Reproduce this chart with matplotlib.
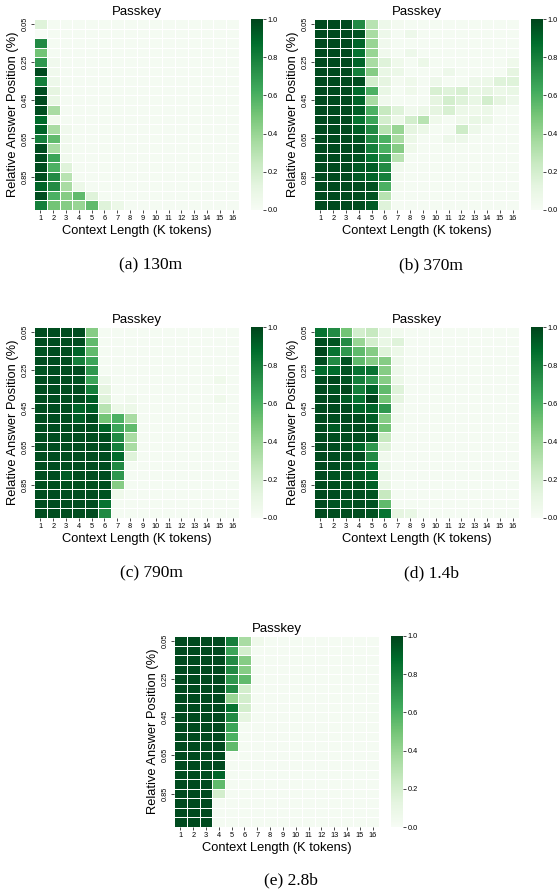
import numpy as np
import matplotlib
matplotlib.use("Agg")
import matplotlib.pyplot as plt
import seaborn as sns

plt.rcParams['font.family'] = ['Liberation Sans', 'DejaVu Sans']

context_k = [str(i) for i in range(1, 17)]
positions = [f"{0.05 * (i + 1):.2f}" for i in range(20)]
captions = ["(a) 130m", "(b) 370m", "(c) 790m", "(d) 1.4b", "(e) 2.8b"]

b = 0.02  # pale background accuracy

acc_130m = [
    [0.15, b, b, b, b, b, b, b, b, b, b, b, b, b, b, b],
    [0.00, b, b, b, b, b, b, b, b, b, b, b, b, b, b, b],
    [0.75, b, b, b, b, b, b, b, b, b, b, b, b, b, b, b],
    [0.50, b, b, b, b, b, b, b, b, b, b, b, b, b, b, b],
    [0.70, 0.05, b, b, b, b, b, b, b, b, b, b, b, b, b, b],
    [0.98, 0.05, b, b, b, b, b, b, b, b, b, b, b, b, b, b],
    [0.80, 0.07, b, b, b, b, b, b, b, b, b, b, b, b, b, b],
    [0.97, 0.12, b, b, b, b, b, b, b, b, b, b, b, b, b, b],
    [0.98, 0.10, b, b, b, b, b, b, b, b, b, b, b, b, b, b],
    [0.97, 0.35, b, b, b, b, b, b, b, b, b, b, b, b, b, b],
    [0.88, 0.04, b, b, b, b, b, b, b, b, b, b, b, b, b, b],
    [0.90, 0.35, 0.05, b, b, b, b, b, b, b, b, b, b, b, b, b],
    [0.80, 0.55, 0.05, b, b, b, b, b, b, b, b, b, b, b, b, b],
    [0.97, 0.35, 0.05, b, b, b, b, b, b, b, b, b, b, b, b, b],
    [0.97, 0.65, 0.05, b, b, b, b, b, b, b, b, b, b, b, b, b],
    [0.97, 0.60, 0.15, b, b, b, b, b, b, b, b, b, b, b, b, b],
    [0.97, 0.75, 0.30, b, b, b, b, b, b, b, b, b, b, b, b, b],
    [0.90, 0.75, 0.35, 0.08, b, b, b, b, b, b, b, b, b, b, b, b],
    [0.97, 0.60, 0.45, 0.55, 0.15, b, b, b, b, b, b, b, b, b, b, b],
    [0.80, 0.50, 0.45, 0.40, 0.55, 0.15, 0.08, b, b, b, b, b, b, b, b, b],
]

acc_370m = [
    [0.98, 0.98, 0.98, 0.75, 0.30, 0.07, 0.03, b, b, b, b, b, b, b, b, b],
    [0.98, 0.98, 0.98, 0.95, 0.35, 0.07, b, 0.07, b, b, b, b, b, b, b, b],
    [0.98, 0.98, 0.98, 0.90, 0.40, 0.05, b, b, b, b, b, b, b, b, b, b],
    [0.98, 0.98, 0.98, 0.85, 0.40, 0.05, b, 0.07, b, b, b, b, b, b, b, b],
    [0.98, 0.98, 0.98, 0.90, 0.35, 0.15, 0.06, b, 0.08, b, b, b, b, b, b, 0.06],
    [0.98, 0.98, 0.98, 0.80, 0.45, 0.10, 0.08, b, b, b, 0.07, b, b, b, b, 0.12],
    [0.98, 0.98, 0.98, 0.97, 0.20, 0.12, 0.03, 0.06, b, 0.07, b, b, 0.07, 0.08, 0.15, 0.15],
    [0.98, 0.98, 0.98, 0.88, 0.60, 0.10, b, 0.06, b, 0.18, 0.15, 0.18, 0.10, 0.12, 0.08, 0.10],
    [0.98, 0.98, 0.98, 0.90, 0.35, 0.05, b, b, b, 0.12, 0.20, 0.15, 0.10, 0.20, 0.12, 0.07],
    [0.98, 0.98, 0.98, 0.92, 0.60, 0.25, 0.15, 0.05, 0.08, 0.12, 0.18, 0.08, 0.06, 0.08, b, b],
    [0.98, 0.98, 0.98, 0.85, 0.65, 0.20, 0.08, 0.20, 0.30, 0.06, b, 0.06, 0.10, 0.08, b, b],
    [0.98, 0.98, 0.98, 0.92, 0.75, 0.30, 0.40, 0.12, 0.08, b, b, 0.22, 0.07, b, b, b],
    [0.98, 0.98, 0.98, 0.95, 0.75, 0.60, 0.35, 0.08, b, b, 0.07, 0.07, b, b, b, b],
    [0.98, 0.98, 0.98, 0.97, 0.80, 0.60, 0.45, 0.06, b, b, b, b, b, b, b, b],
    [0.98, 0.98, 0.98, 0.95, 0.85, 0.70, 0.30, b, b, b, b, b, b, b, b, b],
    [0.98, 0.98, 0.98, 0.93, 0.92, 0.75, 0.05, b, b, b, b, b, b, b, b, b],
    [0.98, 0.98, 0.98, 0.93, 0.90, 0.80, 0.03, b, b, b, b, b, b, b, b, b],
    [0.98, 0.98, 0.98, 0.97, 0.95, 0.60, 0.03, b, b, b, b, b, b, b, b, b],
    [0.98, 0.98, 0.98, 0.97, 0.95, 0.30, b, b, b, b, b, b, b, b, b, b],
    [0.98, 0.98, 0.98, 0.97, 0.93, 0.15, b, b, b, b, b, b, b, b, b, b],
]

acc_790m = [
    [0.97, 0.97, 0.97, 0.97, 0.45, b, b, b, b, b, b, b, b, b, b, b],
    [0.97, 0.97, 0.97, 0.97, 0.55, b, b, b, b, b, b, b, b, b, b, b],
    [0.95, 0.97, 0.97, 0.90, 0.55, b, b, b, b, b, b, b, b, b, b, b],
    [0.97, 0.97, 0.97, 0.80, 0.65, b, b, b, b, b, b, b, b, b, b, b],
    [0.95, 0.97, 0.97, 0.97, 0.70, b, b, b, b, b, b, b, b, b, b, b],
    [0.97, 0.97, 0.97, 0.95, 0.65, 0.07, b, b, b, b, b, b, b, b, 0.06, b],
    [0.97, 0.97, 0.97, 0.97, 0.80, 0.12, b, b, b, b, b, b, b, b, b, b],
    [0.97, 0.97, 0.97, 0.97, 0.92, 0.15, b, 0.05, b, b, b, b, b, b, 0.06, b],
    [0.97, 0.97, 0.97, 0.90, 0.92, 0.30, 0.08, 0.08, b, b, b, b, b, b, b, b],
    [0.97, 0.97, 0.97, 0.92, 0.97, 0.50, 0.60, 0.35, b, b, b, b, b, b, b, b],
    [0.97, 0.97, 0.97, 0.97, 0.97, 0.90, 0.65, 0.55, b, b, b, b, b, b, b, b],
    [0.97, 0.97, 0.97, 0.97, 0.97, 0.97, 0.75, 0.35, b, b, b, b, b, b, b, b],
    [0.97, 0.97, 0.97, 0.97, 0.97, 0.97, 0.80, 0.35, b, b, b, b, b, b, b, b],
    [0.97, 0.97, 0.97, 0.97, 0.97, 0.97, 0.88, 0.15, b, b, b, b, b, b, b, b],
    [0.97, 0.97, 0.97, 0.97, 0.97, 0.97, 0.75, b, b, b, b, b, b, b, b, b],
    [0.97, 0.97, 0.93, 0.97, 0.97, 0.97, 0.70, b, b, b, b, b, b, b, b, b],
    [0.97, 0.97, 0.97, 0.97, 0.97, 0.97, 0.45, b, b, b, b, b, b, b, b, b],
    [0.97, 0.97, 0.97, 0.97, 0.97, 0.95, 0.06, b, b, b, b, b, b, b, b, b],
    [0.97, 0.97, 0.97, 0.97, 0.97, 0.85, b, b, b, b, b, b, b, b, b, b],
    [0.97, 0.97, 0.97, 0.97, 0.97, 0.75, b, b, b, b, b, b, b, b, b, b],
]

acc_1_4b = [
    [0.85, 0.75, 0.50, 0.20, 0.25, 0.10, 0.04, b, b, b, b, b, b, b, b, b],
    [0.97, 0.95, 0.75, 0.40, 0.20, 0.10, 0.15, b, b, b, b, b, b, b, b, b],
    [0.99, 0.85, 0.70, 0.55, 0.45, 0.15, 0.08, b, b, b, b, b, b, b, b, b],
    [0.97, 0.75, 0.95, 0.55, 0.45, 0.45, 0.07, b, b, b, b, b, b, b, b, b],
    [0.88, 0.88, 0.95, 0.85, 0.85, 0.45, 0.07, b, b, b, b, b, b, b, b, b],
    [0.97, 0.99, 0.95, 0.80, 0.70, 0.45, 0.08, b, b, b, b, b, b, b, b, b],
    [0.98, 0.95, 0.99, 0.80, 0.90, 0.55, 0.15, b, b, b, b, b, b, b, b, b],
    [0.98, 0.98, 0.93, 0.85, 0.99, 0.50, 0.12, b, b, b, b, b, b, b, b, b],
    [0.98, 0.98, 0.98, 0.90, 0.90, 0.70, 0.05, b, b, b, b, b, b, b, b, b],
    [0.98, 0.97, 0.98, 0.97, 0.92, 0.45, 0.05, b, b, b, b, b, b, b, b, b],
    [0.98, 0.93, 0.97, 0.97, 0.95, 0.50, b, b, b, b, b, b, b, b, b, b],
    [0.98, 0.97, 0.97, 0.97, 0.95, 0.25, b, b, b, b, b, b, b, b, b, b],
    [0.98, 0.97, 0.97, 0.90, 0.70, 0.15, b, b, b, b, b, b, b, b, b, b],
    [0.98, 0.97, 0.97, 0.97, 0.75, 0.05, b, b, b, b, b, b, b, b, b, b],
    [0.98, 0.97, 0.97, 0.93, 0.85, 0.07, b, b, b, b, b, b, b, b, b, b],
    [0.98, 0.95, 0.97, 0.93, 0.90, 0.07, b, b, b, b, b, b, b, b, b, b],
    [0.98, 0.97, 0.97, 0.97, 0.92, 0.10, b, b, b, b, b, b, b, b, b, b],
    [0.98, 0.97, 0.97, 0.97, 0.95, 0.25, b, b, b, b, b, b, b, b, b, b],
    [0.98, 0.95, 0.95, 0.97, 0.95, 0.55, b, b, b, b, b, b, b, b, b, b],
    [0.98, 0.97, 0.97, 0.97, 0.95, 0.85, 0.12, 0.10, b, b, b, b, b, b, b, b],
]

acc_2_8b = [
    [0.98, 0.98, 0.98, 0.98, 0.80, 0.35, 0.06, b, b, b, b, b, b, b, b, b],
    [0.98, 0.98, 0.98, 0.98, 0.65, 0.20, b, b, b, b, b, b, b, b, b, b],
    [0.98, 0.98, 0.98, 0.98, 0.75, 0.45, b, b, b, b, b, b, b, b, b, b],
    [0.98, 0.98, 0.98, 0.98, 0.75, 0.45, b, b, b, b, b, b, b, b, b, b],
    [0.98, 0.98, 0.98, 0.98, 0.70, 0.55, b, b, b, b, b, b, b, b, b, b],
    [0.98, 0.98, 0.98, 0.98, 0.75, 0.20, b, b, b, b, b, b, b, b, b, b],
    [0.98, 0.98, 0.98, 0.98, 0.40, 0.20, b, b, b, b, b, b, b, b, b, b],
    [0.98, 0.98, 0.98, 0.98, 0.85, 0.20, b, b, b, b, b, b, b, b, b, b],
    [0.98, 0.98, 0.98, 0.98, 0.75, 0.12, b, b, b, b, b, b, b, b, b, b],
    [0.98, 0.98, 0.98, 0.98, 0.65, b, b, b, b, b, b, b, b, b, b, b],
    [0.98, 0.98, 0.98, 0.98, 0.60, b, b, b, b, b, b, b, b, b, b, b],
    [0.98, 0.98, 0.98, 0.98, 0.55, b, b, b, b, b, b, b, b, b, b, b],
    [0.98, 0.98, 0.98, 0.98, b, b, b, b, b, b, b, b, b, b, b, b],
    [0.98, 0.98, 0.98, 0.98, b, b, b, b, b, b, b, b, b, b, b, b],
    [0.98, 0.98, 0.98, 0.90, b, b, b, b, b, b, b, b, b, b, b, b],
    [0.98, 0.98, 0.98, 0.55, b, b, b, b, b, b, b, b, b, b, b, b],
    [0.98, 0.98, 0.98, 0.20, b, b, b, b, b, b, b, b, b, b, b, b],
    [0.98, 0.98, 0.98, b, b, b, b, b, b, b, b, b, b, b, b, b],
    [0.98, 0.98, 0.98, b, b, b, b, b, b, b, b, b, b, b, b, b],
    [0.98, 0.98, 0.98, b, b, b, b, b, b, b, b, b, b, b, b, b],
]

W, H = 557, 894
fig = plt.figure(figsize=(W / 100, H / 100), dpi=100)

def px_axes(x0, y0, x1, y1):
    return fig.add_axes([x0 / W, 1 - y1 / H, (x1 - x0) / W, (y1 - y0) / H])

panels = [
    (acc_130m, 34, 19, 0),
    (acc_370m, 314, 19, 1),
    (acc_790m, 34, 327, 2),
    (acc_1_4b, 314, 327, 3),
    (acc_2_8b, 174, 636, 4),
]
cap_y = [265, 265, 573, 573, 880]

for data, x0, y0, k in panels:
    ax = px_axes(x0, y0, x0 + 205, y0 + 191)
    cax = px_axes(x0 + 217, y0, x0 + 229, y0 + 191)
    sns.heatmap(np.array(data), ax=ax, cbar_ax=cax, cmap="Greens", vmin=0, vmax=1,
                linewidths=0.6, linecolor="white",
                xticklabels=context_k, yticklabels=positions)
    ax.set_yticks([i + 0.5 for i in range(0, 20, 4)])
    ax.set_yticklabels([positions[i] for i in range(0, 20, 4)], rotation=90, va="center")
    ax.set_title("Passkey", fontsize=9.5, pad=3)
    ax.set_xlabel("Context Length (K tokens)", fontsize=9.3, labelpad=2)
    ax.set_ylabel("Relative Answer Position (%)", fontsize=9.3, labelpad=2)
    ax.tick_params(axis="x", labelsize=5.3, length=2, width=0.5, pad=1.5, rotation=0)
    ax.tick_params(axis="y", labelsize=5.3, length=2, width=0.5, pad=1.5)
    cax.set_yticks([0, 0.2, 0.4, 0.6, 0.8, 1.0])
    cax.set_yticklabels(["0.0", "0.2", "0.4", "0.6", "0.8", "1.0"])
    cax.tick_params(labelsize=5.3, length=2, width=0.5, pad=1.5)
    for s in cax.spines.values():
        s.set_visible(False)
    cx = (x0 + 117) / W
    fig.text(cx, 1 - cap_y[k] / H, captions[k], ha="center", va="center",
             fontsize=12.5, family=["Liberation Serif", "DejaVu Serif"])

fig.savefig("out.png", dpi=100)
